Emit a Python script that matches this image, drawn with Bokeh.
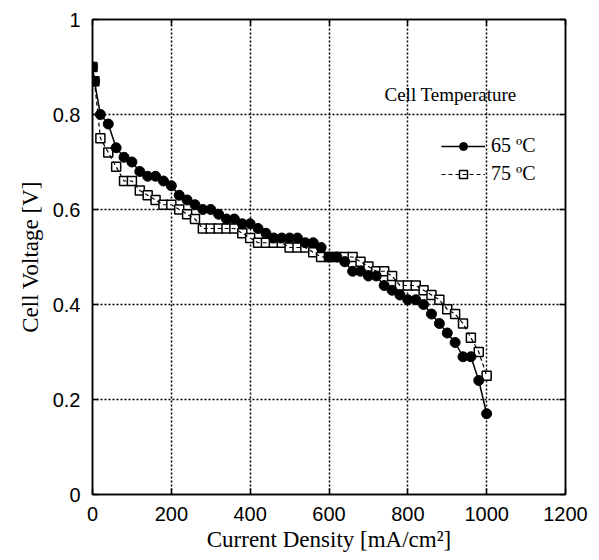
from bokeh.plotting import figure
from bokeh.models import (Range1d, LinearAxis, Legend, LegendItem, Label,
                          CustomJSTickFormatter, FixedTicker, ColumnDataSource)
from bokeh.embed import file_html
from bokeh.resources import INLINE

# ---- data ----
current = [0, 5, 20, 40, 60, 80, 100, 120, 140, 160, 180, 200, 220, 240, 260, 280,
           300, 320, 340, 360, 380, 400, 420, 440, 460, 480, 500, 520, 540, 560, 580,
           600, 620, 640, 660, 680, 700, 720, 740, 760, 780, 800, 820, 840, 860, 880,
           900, 920, 940, 960, 980, 1000]
v65 = [0.90, 0.87, 0.80, 0.78, 0.73, 0.71, 0.70, 0.68, 0.67, 0.67, 0.66, 0.65, 0.63,
       0.62, 0.61, 0.60, 0.60, 0.59, 0.58, 0.58, 0.57, 0.57, 0.56, 0.55, 0.54, 0.54,
       0.54, 0.54, 0.53, 0.53, 0.52, 0.50, 0.50, 0.49, 0.47, 0.47, 0.46, 0.46, 0.44,
       0.43, 0.42, 0.41, 0.41, 0.40, 0.38, 0.36, 0.34, 0.32, 0.29, 0.29, 0.24, 0.17]
v75 = [0.90, 0.87, 0.75, 0.72, 0.69, 0.66, 0.66, 0.64, 0.63, 0.62, 0.61, 0.61, 0.60,
       0.59, 0.58, 0.56, 0.56, 0.56, 0.56, 0.56, 0.55, 0.54, 0.53, 0.53, 0.53, 0.53,
       0.52, 0.52, 0.52, 0.51, 0.50, 0.50, 0.50, 0.50, 0.50, 0.49, 0.48, 0.47, 0.47,
       0.46, 0.44, 0.44, 0.44, 0.43, 0.42, 0.41, 0.39, 0.38, 0.36, 0.33, 0.30, 0.25]
series_labels = ["65 ºC", "75 ºC"]
x_ticks = [0, 200, 400, 600, 800, 1000, 1200]
y_ticks = [0, 0.2, 0.4, 0.6, 0.8, 1.0]
x_grid = [200, 400, 600, 800, 1000]
y_grid = [0.2, 0.4, 0.6, 0.8]
legend_title = "Cell Temperature"
x_label = "Current Density [mA/cm²]"
y_label = "Cell Voltage [V]"

SERIF = "Liberation Serif"
SANS = "Liberation Sans"

p = figure(width=599, height=560, output_backend="svg", toolbar_location=None,
           x_range=Range1d(0, 1200), y_range=Range1d(0, 1),
           min_border_left=92, min_border_right=34, min_border_top=19,
           min_border_bottom=66)
p.background_fill_color = "white"
p.border_fill_color = "white"
p.outline_line_color = "black"
p.outline_line_width = 1.5

fmt = CustomJSTickFormatter(code="""
    if (Math.abs(tick - Math.round(tick)) < 1e-9) { return String(Math.round(tick)); }
    return tick.toFixed(1);
""")

for ax in (p.xaxis[0], p.yaxis[0]):
    ax.major_tick_in = 6
    ax.major_tick_out = 0
    ax.minor_tick_line_color = None
    ax.axis_line_width = 1.5
    ax.major_tick_line_width = 1.5
    ax.major_label_text_font = SANS
    ax.major_label_text_font_size = "20px"
    ax.major_label_text_color = "black"
    ax.axis_label_text_font = SERIF
    ax.axis_label_text_font_size = "23px"
    ax.axis_label_text_font_style = "normal"
    ax.axis_label_text_color = "black"

p.xaxis.ticker = FixedTicker(ticks=x_ticks)
p.yaxis.ticker = FixedTicker(ticks=y_ticks)
p.yaxis.formatter = fmt
p.xaxis.axis_label = x_label
p.yaxis.axis_label = y_label
p.xaxis.major_label_standoff = 12
p.yaxis.major_label_standoff = 12
p.xaxis.axis_label_standoff = 3
p.yaxis.axis_label_standoff = 7

empty = CustomJSTickFormatter(code="return '';")
ax_r = LinearAxis(ticker=FixedTicker(ticks=y_ticks), formatter=empty,
                  major_tick_in=6, major_tick_out=0, minor_tick_line_color=None,
                  axis_line_width=1.5, major_tick_line_width=1.5,
                  major_label_standoff=0, major_label_text_font_size="1px")
ax_t = LinearAxis(ticker=FixedTicker(ticks=x_ticks), formatter=empty,
                  major_tick_in=6, major_tick_out=0, minor_tick_line_color=None,
                  axis_line_width=1.5, major_tick_line_width=1.5,
                  major_label_standoff=0, major_label_text_font_size="1px")
p.add_layout(ax_r, "right")
p.add_layout(ax_t, "above")

p.xgrid.ticker = FixedTicker(ticks=x_grid)
p.ygrid.ticker = FixedTicker(ticks=y_grid)
for g in (p.xgrid[0], p.ygrid[0]):
    g.grid_line_color = "black"
    g.grid_line_dash = "2 2"
    g.grid_line_width = 1.5

src = ColumnDataSource(dict(x=current, v65=v65, v75=v75,
                            f75=["black" if i < 2 else "white" for i in range(len(current))]))

sq75 = p.scatter("x", "v75", source=src, marker="square", size=9,
                 fill_color="f75", line_color="black", line_width=1.5)
ln75 = p.line("x", "v75", source=src, line_color="black", line_width=1.2,
              line_dash="4 3")
ln65 = p.line("x", "v65", source=src, line_color="black", line_width=1.5)
c65 = p.scatter("x", "v65", source=src, marker="circle", size=10,
                fill_color="black", line_color="black")

legend = Legend(items=[LegendItem(label=series_labels[0], renderers=[ln65, c65], index=5),
                       LegendItem(label=series_labels[1], renderers=[sq75, ln75], index=5)],
                location=(349, 309), orientation="vertical",
                glyph_width=44, glyph_height=20, label_height=20,
                label_standoff=6, spacing=5, padding=0, margin=0,
                border_line_color=None, background_fill_alpha=0,
                label_text_font=SERIF, label_text_font_size="20px",
                label_text_color="black")
p.add_layout(legend, "center")

p.add_layout(Label(x=292, y=400, x_units="screen", y_units="screen",
                   text=legend_title, text_font=SERIF, text_font_size="19px",
                   text_color="black", text_baseline="middle"))

open("out.html", "w").write(file_html(p, INLINE))
